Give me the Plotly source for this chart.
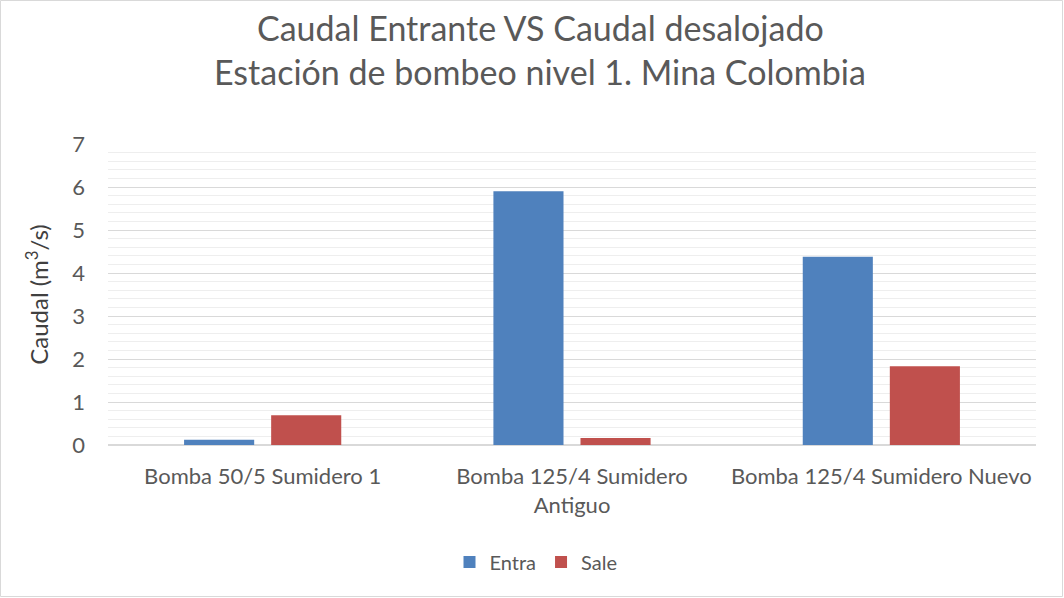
import plotly.graph_objects as go

# Pumping-station flow data (m3/s)
categorias = [
    "Bomba 50/5 Sumidero 1",
    "Bomba 125/4 Sumidero<br>Antiguo",
    "Bomba 125/4 Sumidero Nuevo",
]
entra = [0.12, 5.9, 4.38]
sale = [0.69, 0.16, 1.83]
y_ticks = [0, 1, 2, 3, 4, 5, 6, 7]

FONT = "Lato"
GRIS = "#595959"
AZUL = "#4f81bd"
ROJO = "#c0504d"

W, H = 1064, 598
ML, MR, MT, MB = 108, 28, 144, 153

fig = go.Figure()
fig.add_trace(go.Bar(x=categorias, y=entra, name="Entra", marker_color=AZUL,
                     marker_line_width=0))
fig.add_trace(go.Bar(x=categorias, y=sale, name="Sale", marker_color=ROJO,
                     marker_line_width=0))

pw, ph = W - ML - MR, H - MT - MB

fig.update_layout(
    width=W, height=H,
    margin=dict(l=ML, r=MR, t=MT, b=MB),
    paper_bgcolor="white", plot_bgcolor="white",
    barmode="group", bargap=0.437, bargroupgap=0.195,
    font=dict(family=FONT, color=GRIS, size=21),
    showlegend=True,
    legend=dict(orientation="h", x=(536 - ML) / pw, xanchor="center",
                y=-(562 - (H - MB)) / ph, yanchor="middle",
                font=dict(family=FONT, size=20, color=GRIS),
                itemwidth=30, traceorder="normal"),
)

fig.update_xaxes(
    showgrid=False, showline=False, ticks="", zeroline=False,
    tickfont=dict(family=FONT, size=22, color=GRIS),
    ticklabelstandoff=16,
)
fig.update_yaxes(
    range=[0, 7], tickvals=y_ticks, ticks="", zeroline=True,
    zerolinecolor="#d9d9d9", zerolinewidth=1.5,
    showgrid=True, gridcolor="#d9d9d9", gridwidth=1,
    minor=dict(dtick=0.2, showgrid=True, gridcolor="#eeeeee", gridwidth=1),
    tickfont=dict(family=FONT, size=22, color=GRIS),
    ticklabelstandoff=22,
    title=dict(text="Caudal (m<sup>3</sup>/s)",
               font=dict(family=FONT, size=24, color="#404040"),
               standoff=16),
)

# Two-line chart title
title_x = (540 - ML) / pw
fig.add_annotation(text="Caudal Entrante VS Caudal desalojado",
                   xref="paper", yref="paper", x=title_x, y=1 + (MT - 27) / ph,
                   showarrow=False, yanchor="middle",
                   font=dict(family=FONT, size=34, color=GRIS))
fig.add_annotation(text="Estación de bombeo nivel 1. Mina Colombia",
                   xref="paper", yref="paper", x=title_x, y=1 + (MT - 71) / ph,
                   showarrow=False, yanchor="middle",
                   font=dict(family=FONT, size=34, color=GRIS))

# Chart frame
fig.add_shape(type="rect", xref="paper", yref="paper",
              x0=(-ML + 0.5) / pw, x1=(W - ML - 1.5) / pw,
              y0=(-MB + 1.5) / ph, y1=(H - MB - 0.5) / ph,
              line=dict(color="#d9d9d9", width=1), fillcolor="rgba(0,0,0,0)",
              layer="below")

fig.write_html("out.html")
